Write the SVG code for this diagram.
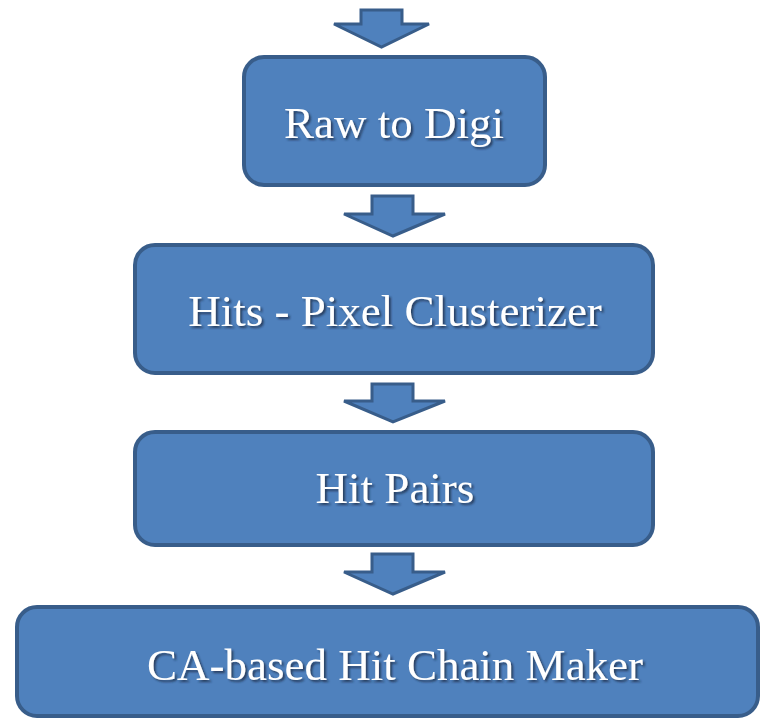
<svg xmlns="http://www.w3.org/2000/svg" width="761" height="721" viewBox="0 0 761 721">
  <defs>
    <filter id="txtShadow" x="-10%" y="-30%" width="120%" height="160%">
      <feDropShadow dx="2" dy="2" stdDeviation="1.2" flood-color="#1a2a40" flood-opacity="0.75"/>
    </filter>
  </defs>
  <style>
    .box { fill: #4F81BD; stroke: #385D8A; stroke-width: 4; }
    .arrow { fill: #4F81BD; stroke: #385D8A; stroke-width: 3; stroke-linejoin: miter; }
    .label { fill: #ffffff; font-family: "Liberation Serif", "DejaVu Serif", serif; font-size: 45px; text-anchor: middle; filter: url(#txtShadow); }
  </style>
  <rect width="761" height="721" fill="#ffffff"/>

  <!-- block arrows between stages -->
  <g id="connectors">
    <path class="arrow" d="M361,10 H402 V24 H429 L381.5,47 L334,24 H361 Z"/>
    <path class="arrow" d="M372,196 H413 V214 H445 L393,236 L344,214 H372 Z"/>
    <path class="arrow" d="M372,384 H413 V401 H445 L393,422 L344,401 H372 Z"/>
    <path class="arrow" d="M372,554 H413 V572 H445 L393,594 L344,572 H372 Z"/>
  </g>

  <g id="raw-to-digi">
    <rect class="box" x="244" y="57" width="301" height="128" rx="20" ry="20"/>
    <text class="label" x="394" y="138">Raw to Digi</text>
  </g>

  <g id="pixel-clusterizer">
    <rect class="box" x="135" y="245" width="518" height="128" rx="20" ry="20"/>
    <text class="label" x="395" y="326">Hits - Pixel Clusterizer</text>
  </g>

  <g id="hit-pairs">
    <rect class="box" x="135" y="432" width="518" height="113" rx="20" ry="20"/>
    <text class="label" x="395" y="503">Hit Pairs</text>
  </g>

  <g id="chain-maker">
    <rect class="box" x="17" y="607" width="741" height="109" rx="20" ry="20"/>
    <text class="label" x="395" y="680">CA-based Hit Chain Maker</text>
  </g>
</svg>
